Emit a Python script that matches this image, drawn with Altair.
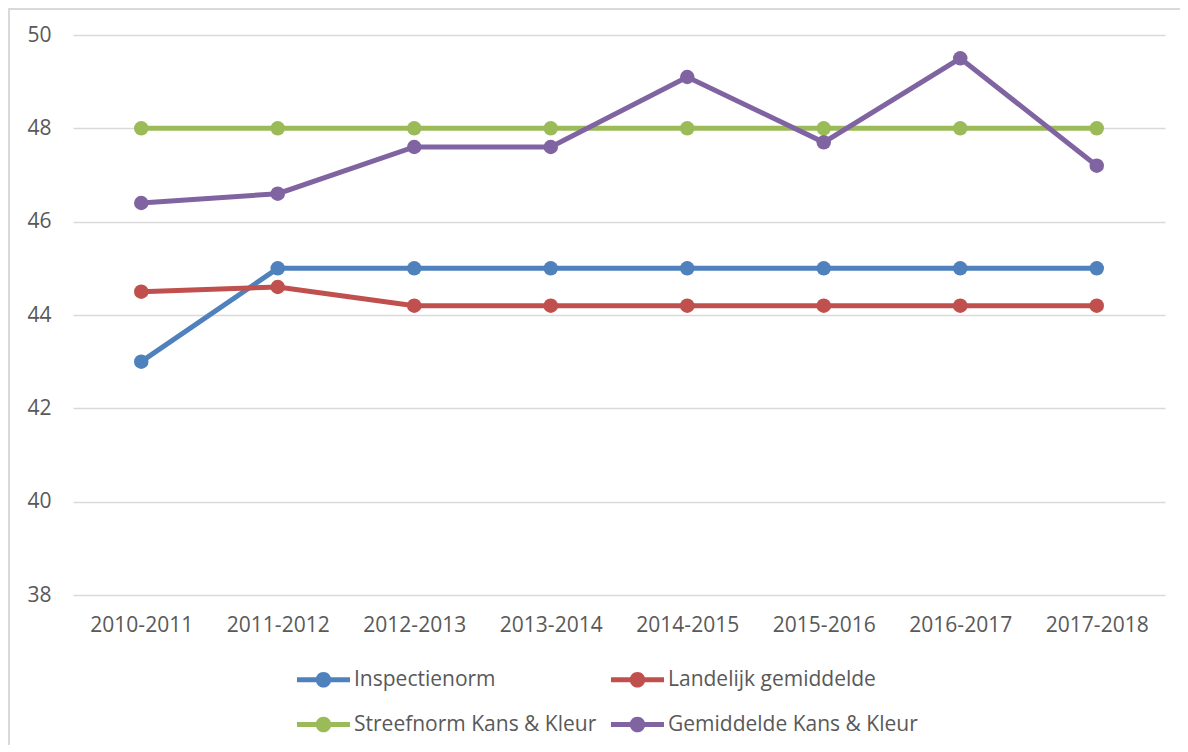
import altair as alt
import pandas as pd

years = ["2010-2011", "2011-2012", "2012-2013", "2013-2014",
         "2014-2015", "2015-2016", "2016-2017", "2017-2018"]
series_names = ["Inspectienorm", "Landelijk gemiddelde",
                "Streefnorm Kans & Kleur", "Gemiddelde Kans & Kleur"]
inspectienorm = [43, 45, 45, 45, 45, 45, 45, 45]
landelijk = [44.5, 44.6, 44.2, 44.2, 44.2, 44.2, 44.2, 44.2]
streefnorm = [48, 48, 48, 48, 48, 48, 48, 48]
gemiddelde = [46.4, 46.6, 47.6, 47.6, 49.1, 47.7, 49.5, 47.2]
colors = ["#4F81BD", "#C0504D", "#9BBB59", "#8064A2"]

rows = []
for name, vals in zip(series_names, [inspectienorm, landelijk, streefnorm, gemiddelde]):
    for y, v in zip(years, vals):
        rows.append({"Jaar": y, "Waarde": v, "Serie": name})
df = pd.DataFrame(rows)

FONT = "Open Sans"
TXT = "#595959"
FS = 21

symbol_path = ("M -2.65 -0.24 L 2.65 -0.24 L 2.65 0.24 L -2.65 0.24 Z "
               "M 0.78 0 A 0.78 0.78 0 1 1 -0.78 0 A 0.78 0.78 0 1 1 0.78 0 Z")

x = alt.X("Jaar:N", sort=years, scale=alt.Scale(paddingInner=0, paddingOuter=0),
          axis=alt.Axis(title=None, labelAngle=0, domain=False, ticks=False,
                        grid=False,
                        labelFont=FONT, labelFontSize=FS, labelColor=TXT,
                        labelPadding=19))
y = alt.Y("Waarde:Q", scale=alt.Scale(domain=[38, 50], nice=False, zero=False),
          axis=alt.Axis(title=None, values=[38, 40, 42, 44, 46, 48, 50],
                        domain=False, ticks=False, labelFont=FONT,
                        labelFontSize=FS, labelColor=TXT, labelPadding=22,
                        gridColor="#D9D9D9", gridWidth=1.5))
color = alt.Color("Serie:N", sort=series_names,
                  scale=alt.Scale(domain=series_names, range=colors),
                  legend=alt.Legend(title=None, orient="none", columns=2,
                                    direction="horizontal",
                                    legendX=240, legendY=634,
                                    symbolType=symbol_path, symbolSize=400,
                                    symbolStrokeWidth=0,
                                    labelOffset=20, columnPadding=14,
                                    rowPadding=23,
                                    labelFont=FONT, labelFontSize=FS,
                                    labelColor=TXT, labelLimit=400))

base = alt.Chart(df)
lines = base.mark_line(strokeWidth=5).encode(x=x, y=y, color=color)
points = base.mark_point(filled=True, size=210, opacity=1).encode(x=x, y=y, color=color)

frame = alt.Chart(pd.DataFrame({"k": [0]})).mark_rect(
    fill=None, stroke="#D9D9D9", strokeWidth=2, clip=False
).encode(x=alt.value(-64), x2=alt.value(1300), y=alt.value(-26), y2=alt.value(900))

chart = alt.layer(frame, lines, points).properties(
    width=1092, height=560,
    autosize=alt.AutoSizeParams(type="none"),
    padding={"left": 65, "top": 27, "right": 15, "bottom": 150},
).configure(background="white").configure_view(stroke=None)

chart.save("out.html", embed_options={"renderer": "svg", "actions": False})
